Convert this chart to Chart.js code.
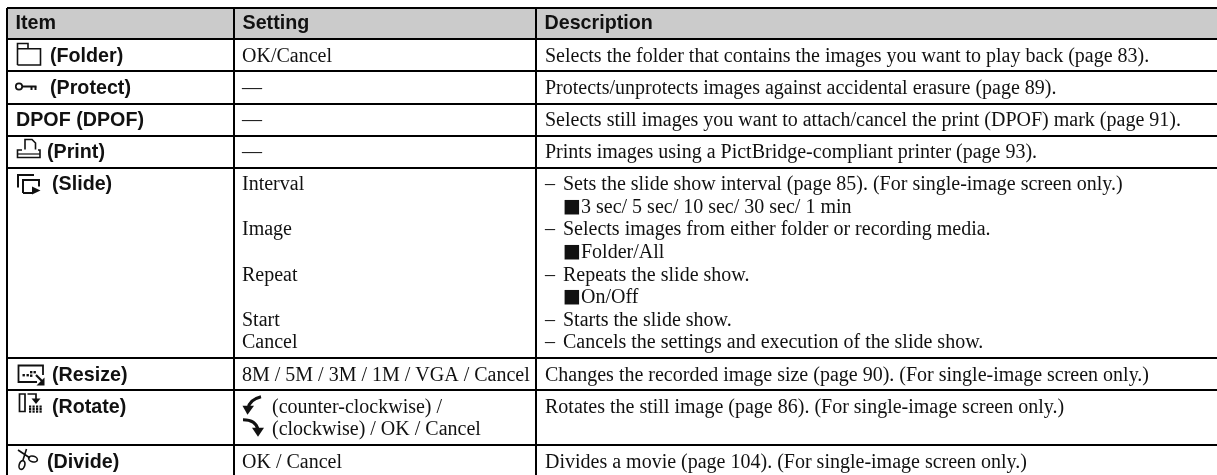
<!DOCTYPE html>
<html>
<head>
<meta charset="utf-8">
<title>Playback menu table</title>
<script src="https://cdn.jsdelivr.net/npm/chart.js@4"></script>
<style>
    html, body { margin: 0; padding: 0; background: #fff; overflow: hidden; }
    canvas { display: block; }
</style>
</head>
<body>
<canvas id="menuTable" width="1217" height="475"></canvas>
<script>
// Table text
const headers = ['Item', 'Setting', 'Description'];
const items = ['(Folder)', '(Protect)', 'DPOF (DPOF)', '(Print)', '(Slide)', '(Resize)', '(Rotate)', '(Divide)'];
const settings = [
    ['OK/Cancel'],
    ['—'],
    ['—'],
    ['—'],
    ['Interval', '', 'Image', '', 'Repeat', '', 'Start', 'Cancel'],
    ['8M / 5M / 3M / 1M / VGA / Cancel'],
    ['(counter-clockwise) /', '(clockwise) / OK / Cancel'],
    ['OK / Cancel']
];
// Tabs split the dash, the square and the indented text
const descriptions = [
    ['Selects the folder that contains the images you want to play back (page 83).'],
    ['Protects/unprotects images against accidental erasure (page 89).'],
    ['Selects still images you want to attach/cancel the print (DPOF) mark (page 91).'],
    ['Prints images using a PictBridge-compliant printer (page 93).'],
    [
        '–\tSets the slide show interval (page 85). (For single-image screen only.)',
        '\t■\t3 sec/ 5 sec/ 10 sec/ 30 sec/ 1 min',
        '–\tSelects images from either folder or recording media.',
        '\t■\tFolder/All',
        '–\tRepeats the slide show.',
        '\t■\tOn/Off',
        '–\tStarts the slide show.',
        '–\tCancels the settings and execution of the slide show.'
    ],
    ['Changes the recorded image size (page 90). (For single-image screen only.)'],
    ['Rotates the still image (page 86). (For single-image screen only.)'],
    ['Divides a movie (page 104). (For single-image screen only.)']
];

// Axis ticks: the table's column and row rules
const columnTicks = [7, 234, 536];
const rowTicks = [8, 39, 71, 103.5, 135.5, 167.5, 358, 390, 445];

const SERIF = '20px "Liberation Serif"';
const SANS_BOLD = 'bold 19.7px "Liberation Sans"';
const SQUARE = '19px "DejaVu Sans"';
const LINE_STEP = 22.6;
const BASELINE = 22.6;

// Small pictograms in front of the item names, drawn from the cell's top left corner
const stroke = (ctx, width, path) => {
    ctx.lineWidth = width;
    ctx.beginPath();
    path();
    ctx.stroke();
};
const poly = (ctx, pts, close) => {
    pts.forEach((p, i) => (i ? ctx.lineTo(p[0], p[1]) : ctx.moveTo(p[0], p[1])));
    if (close) ctx.closePath();
};
const fillPoly = (ctx, pts) => {
    ctx.beginPath();
    poly(ctx, pts, true);
    ctx.fill();
};
const dots = (ctx, list, size) => list.forEach(d => ctx.fillRect(d[0], d[1], size, size));

const icons = [
    { inset: 43, draw: ctx => {
        stroke(ctx, 1.6, () => poly(ctx, [[10.5, 26], [10.5, 4.5], [21, 4.5], [21, 9.7]]));
        stroke(ctx, 1.6, () => poly(ctx, [[10.5, 9.7], [33.5, 9.7], [33.5, 26], [10.5, 26]]));
    } },
    { inset: 43, draw: ctx => {
        stroke(ctx, 1.7, () => { ctx.arc(12, 15.5, 3.2, 0, Math.PI * 2); });
        stroke(ctx, 2, () => poly(ctx, [[15, 15.5], [29.5, 15.5]]));
        stroke(ctx, 2, () => { poly(ctx, [[24.5, 15.5], [24.5, 19]]); poly(ctx, [[28.5, 15.5], [28.5, 19]]); });
    } },
    { inset: 9, draw: () => {} },
    { inset: 40, draw: ctx => {
        stroke(ctx, 1.6, () => poly(ctx, [[18, 14], [18, 4], [25, 4], [28.5, 7.5], [28.5, 14]]));
        stroke(ctx, 1.6, () => poly(ctx, [[15, 14.5], [10.5, 14.5], [10.5, 22], [33, 22], [33, 14.5], [31, 14.5]]));
        stroke(ctx, 1.2, () => poly(ctx, [[10.5, 18.5], [33, 18.5]]));
    } },
    { inset: 45, draw: ctx => {
        stroke(ctx, 2, () => poly(ctx, [[11, 20], [11, 7.5], [27, 7.5]]));
        stroke(ctx, 2, () => poly(ctx, [[16, 25.5], [16, 12.5], [32, 12.5], [32, 19]]));
        stroke(ctx, 2, () => poly(ctx, [[16, 25.5], [25, 25.5]]));
        fillPoly(ctx, [[25, 19], [33.5, 23], [25, 27]]);
    } },
    { inset: 45, draw: ctx => {
        stroke(ctx, 1.8, () => poly(ctx, [[30, 24], [11.5, 24], [11.5, 7.5], [36, 7.5], [36, 17]]));
        dots(ctx, [[15.5, 16], [19.5, 16], [23, 13], [23, 16.5], [26.5, 13]], 2.4);
        stroke(ctx, 2.2, () => poly(ctx, [[29, 17], [35, 23]]));
        fillPoly(ctx, [[37.5, 19.5], [37.5, 27.5], [29.5, 27.5]]);
    } },
    { inset: 45, draw: ctx => {
        stroke(ctx, 1.7, () => poly(ctx, [[12.5, 4], [18, 4], [18, 21.5], [12.5, 21.5]], true));
        stroke(ctx, 1.7, () => poly(ctx, [[20.5, 4], [29, 4], [29, 10]]));
        fillPoly(ctx, [[24.5, 8.5], [33.5, 8.5], [29, 14]]);
        const grid = [];
        for (let c = 0; c < 4; c++) for (let r = 0; r < 3; r++) grid.push([22 + c * 3.5, 15.5 + r * 2.5]);
        dots(ctx, grid, 2.2);
    } },
    { inset: 40, draw: ctx => {
        stroke(ctx, 1.6, () => { poly(ctx, [[11, 5], [23, 13]]); poly(ctx, [[19.5, 4], [16, 15]]); });
        stroke(ctx, 1.6, () => { ctx.ellipse(26, 14, 4.5, 2.8, 0.3, 0, Math.PI * 2); });
        stroke(ctx, 1.6, () => { ctx.ellipse(15, 20, 2.8, 4.5, 0.3, 0, Math.PI * 2); });
    } }
];

// Curved arrows before the Rotate settings, from the text anchor
const drawRotateArrows = (ctx, x, y) => {
    ctx.save();
    ctx.translate(x, y);
    stroke(ctx, 3, () => { ctx.moveTo(-11, -15); ctx.quadraticCurveTo(-23, -12, -24, -3); });
    fillPoly(ctx, [[-29.5, -6], [-18, -6], [-24.5, 3]]);
    stroke(ctx, 3, () => { ctx.moveTo(-29, 8); ctx.quadraticCurveTo(-16, 8, -14, 18); });
    fillPoly(ctx, [[-20, 16], [-8, 16], [-14, 25]]);
    ctx.restore();
};

// Text points per column, placed in axis units
const cellPoints = (rows, left, indent) => rows.flatMap((lines, r) =>
    lines.map((text, l) => ({
        x: left + (indent ? indent(r) : 0),
        y: rowTicks[r + 1] + BASELINE + l * (r === 6 ? 22 : LINE_STEP),
        text
    })).filter(p => p.text !== '')
);

const tablePainter = {
    id: 'tablePainter',
    beforeDraw(chart) {
        // Header band
        const { ctx, scales: { x, y } } = chart;
        const top = y.getPixelForValue(rowTicks[0]);
        const left = x.getPixelForValue(columnTicks[0]);
        ctx.save();
        ctx.fillStyle = '#cbcbcb';
        ctx.fillRect(left, top, chart.width - left, y.getPixelForValue(rowTicks[1]) - top);
        ctx.restore();
    },
    afterDraw(chart) {
        const { ctx, scales: { x, y } } = chart;
        ctx.save();
        ctx.textBaseline = 'alphabetic';
        ctx.fillStyle = '#111';
        ctx.strokeStyle = '#111';
        chart.data.datasets.forEach((dataset, i) => {
            chart.getDatasetMeta(i).data.forEach((point, j) => {
                const parts = dataset.data[j].text.split('\t');
                ctx.font = dataset.labelFont;
                if (parts[0]) ctx.fillText(parts[0], point.x, point.y);
                if (parts.length === 2) ctx.fillText(parts[1], point.x + 18, point.y);
                if (parts.length === 3) {
                    ctx.fillText(parts[2], point.x + 36, point.y);
                    ctx.font = SQUARE;
                    ctx.fillText(parts[1], point.x + 18, point.y - 1);
                }
            });
        });
        // Pictograms
        icons.forEach((icon, r) => {
            ctx.save();
            ctx.translate(x.getPixelForValue(columnTicks[0]), y.getPixelForValue(rowTicks[r + 1]));
            icon.draw(ctx);
            ctx.restore();
        });
        drawRotateArrows(ctx, x.getPixelForValue(columnTicks[1] + 38), y.getPixelForValue(rowTicks[7] + 21.7));
        ctx.restore();
    }
};

const itemInset = r => icons[r].inset;
const settingInset = r => (r === 6 ? 30 : 0);

new Chart(document.getElementById('menuTable'), {
    type: 'scatter',
    data: {
        datasets: [
            {
                label: 'Header',
                labelFont: SANS_BOLD,
                pointRadius: 0,
                data: headers.map((text, c) => ({ x: columnTicks[c] + 8.5, y: rowTicks[0] + 21, text }))
            },
            { label: 'Item', labelFont: SANS_BOLD, pointRadius: 0, data: cellPoints(items.map(t => [t]), columnTicks[0], itemInset) },
            { label: 'Setting', labelFont: SERIF, pointRadius: 0, data: cellPoints(settings, columnTicks[1] + 8, settingInset) },
            { label: 'Description', labelFont: SERIF, pointRadius: 0, data: cellPoints(descriptions, columnTicks[2] + 9) }
        ]
    },
    options: {
        responsive: false,
        animation: false,
        layout: { padding: { left: 7, top: 8 } },
        plugins: { legend: { display: false }, tooltip: { enabled: false } },
        events: [],
        scales: {
            x: {
                type: 'linear',
                min: 7,
                max: 1217,
                afterBuildTicks: scale => { scale.ticks = columnTicks.map(value => ({ value })); },
                ticks: { display: false },
                border: { display: false },
                grid: { color: '#000', lineWidth: 2, drawTicks: false }
            },
            y: {
                type: 'linear',
                reverse: true,
                min: 8,
                max: 475,
                afterBuildTicks: scale => { scale.ticks = rowTicks.map(value => ({ value })); },
                ticks: { display: false },
                border: { display: false },
                grid: { color: '#000', lineWidth: 2, drawTicks: false }
            }
        }
    },
    plugins: [tablePainter]
});
</script>
</body>
</html>
